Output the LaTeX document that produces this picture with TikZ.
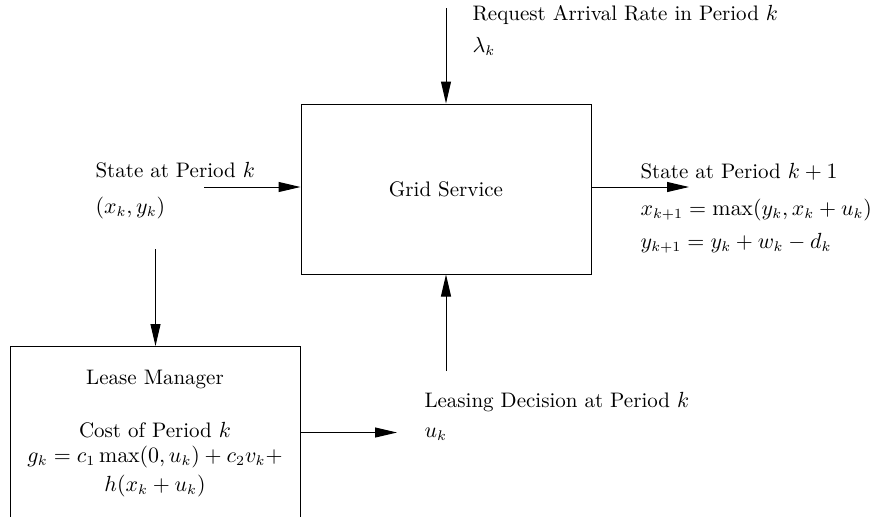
\documentclass[tikz,border=0pt]{standalone}
\usepackage{amsmath}
\usepackage{tikz}
\usetikzlibrary{arrows.meta, positioning}

\begin{document}
\begin{tikzpicture}[x=0.5pt, y=-0.5pt,
			>={Triangle[length=11pt, width=5pt]},
			line width=0.5pt,
			every node/.style={font=\fontsize{10.5pt}{12.6pt}\selectfont},
			box/.style={draw, rectangle, minimum width=145pt, minimum height=85pt, inner sep=0pt},
			lbl/.style={anchor=base west, inner sep=0pt},
			mid/.style={anchor=base, inner sep=0pt}]
			
			\useasboundingbox (0,0) rectangle (871,516);
			
			% the two blocks
			\node[box] (grid) at (446,189) {Grid Service};
			\node[box, minimum height=86pt] (lease) at (155.5,432.5) {};
			
			% inputs and outputs around the grid service
			\node[lbl] (rateLbl) at (472,20) {Request Arrival Rate in Period $k$};
			\node[lbl] (rateSym) at (472,52) {$\lambda_k$};
			\node[lbl] (stateLbl) at (95,177) {State at Period $k$};
			\node[lbl] (stateSym) at (95,213) {$(x_k, y_k)$};
			\node[lbl] (nextLbl) at (640,178) {State at Period $k+1$};
			\node[lbl] (nextX) at (640,215) {$x_{k+1} = \max(y_k, x_k + u_k)$};
			\node[lbl] (nextY) at (640,248) {$y_{k+1} = y_k + w_k - d_k$};
			\node[lbl] (decLbl) at (424,407) {Leasing Decision at Period $k$};
			\node[lbl] (decSym) at (424,437) {$u_k$};
			
			% text of the lease manager
			\node[mid] (leaseTitle) at (155,384) {Lease Manager};
			\node[mid] (costLbl) at (155,437) {Cost of Period $k$};
			\node[mid] (costEq) at (155,462) {$g_k = c_1 \max(0, u_k) + c_2 v_k +$};
			\node[mid] (costEqB) at (155,491) {$h(x_k + u_k)$};
			
			% free ends of the arrows
			\coordinate (rateIn) at (446,8);
			\coordinate (stateIn) at (204,187);
			\coordinate (stateDown) at (155.5,249);
			\coordinate (nextOut) at (689,187);
			\coordinate (decOut) at (397,432.5);
			\coordinate (decUp) at (446,371);
			
			\draw[->] (rateIn) -- (grid.north);
			\draw[->] (stateIn) -- (stateIn -| grid.west);
			\draw[->] (nextOut -| grid.east) -- (nextOut);
			\draw[->] (stateDown) -- (lease.north);
			\draw[->] (lease.east) -- (decOut);
			\draw[->] (decUp) -- (grid.south);
		\end{tikzpicture}
\end{document}
